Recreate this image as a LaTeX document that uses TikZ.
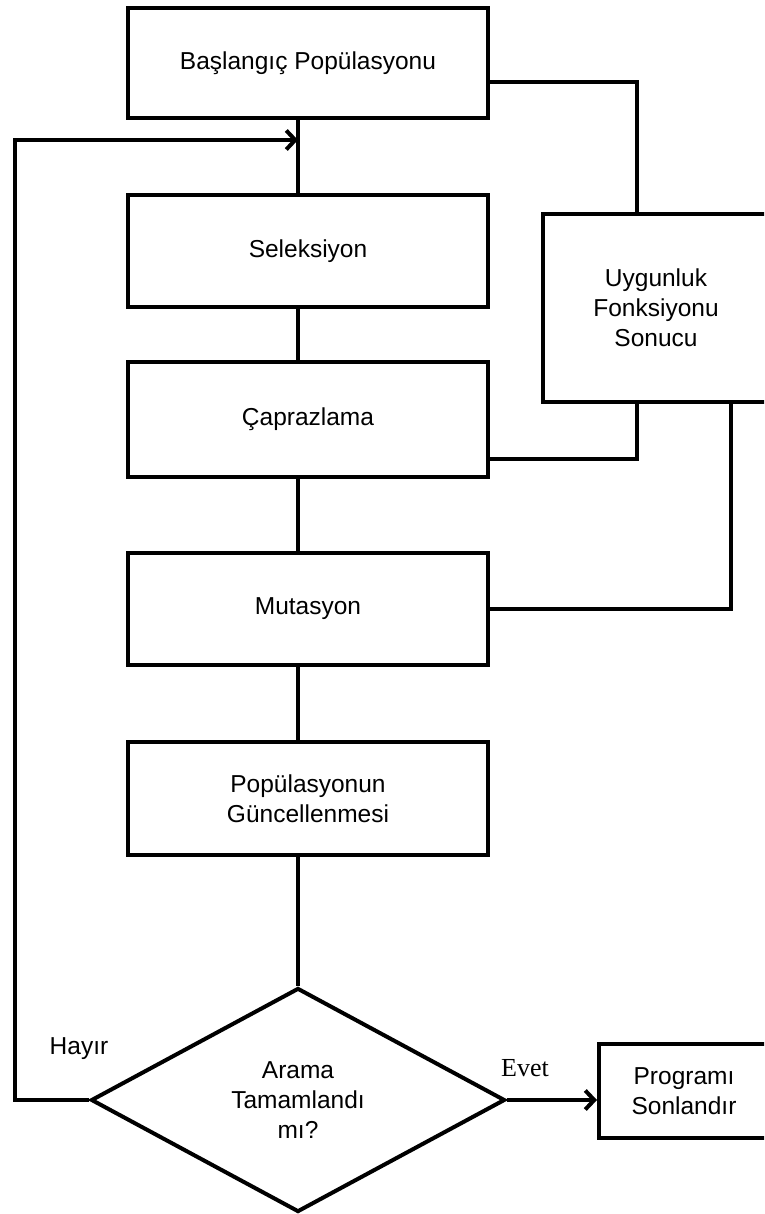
\documentclass[tikz,border=0pt]{standalone}
\usepackage{fontspec}
\setmainfont{Liberation Sans}
\newfontfamily\evetfont{Liberation Serif}
\usetikzlibrary{shapes.geometric,arrows.meta}
\begin{document}
\begin{tikzpicture}[x=1pt,y=-1pt,
  every node/.style={font=\fontsize{24.5}{30}\selectfont},
  box/.style={draw,line width=4pt,minimum width=360pt,align=center,inner sep=0pt},
  conn/.style={line width=4pt},
  arr/.style={line width=4pt,-{Straight Barb[length=9pt,width=19pt]}},
  lbl/.style={inner sep=0pt}]
\useasboundingbox (0,0) rectangle (764,1214);
\clip (0,0) rectangle (764,1214);
\node[box,minimum height=110pt] (init) at (308,63) {Başlangıç Popülasyonu};
\node[box,minimum height=112pt] (sel) at (308,251) {Seleksiyon};
\node[box,minimum height=115pt] (cap) at (308,419.5) {Çaprazlama};
\node[box,minimum height=112pt] (mut) at (308,609) {Mutasyon};
\node[box,minimum height=113pt] (upd) at (308,798.5) {Popülasyonun\\Güncellenmesi};
\node[box,minimum width=226pt,minimum height=188pt] (fit) at (656,308) {Uygunluk\\Fonksiyonu\\Sonucu};
\node[draw,line width=4pt,diamond,aspect=1.85,minimum width=414pt,minimum height=224pt,inner sep=0pt,align=center] (dec) at (298,1100) {Arama\\Tamamlandı\\mı?};
\node[box,minimum width=170pt,minimum height=94pt] (prog) at (684,1091) {Programı\\Sonlandır};
\node[lbl] (hayir) at (79,1049) {Hayır};
\node[lbl,font=\evetfont\fontsize{26}{30}\selectfont] (evet) at (525,1068) {Evet};
\coordinate (join) at (298,140);
\coordinate (lb) at (15,1100);
% main chain
\draw[conn] (init.south -| dec.north) -- (sel.north -| dec.north);
\draw[conn] (sel.south -| dec.north) -- (cap.north -| dec.north);
\draw[conn] (cap.south -| dec.north) -- (mut.north -| dec.north);
\draw[conn] (mut.south -| dec.north) -- (upd.north -| dec.north);
\draw[conn] (upd.south -| dec.north) -- (dec.north);
% fitness links
\draw[conn] ([yshift=-19pt]init.east) -| ([xshift=-19pt]fit.north);
\draw[conn] ([yshift=-39.5pt]cap.east) -| ([xshift=-19pt]fit.south);
\draw[conn] (mut.east) -| ([xshift=75pt]fit.south);
% loop back
\draw[arr] (dec.west) -- (lb) |- (join);
% yes
\draw[arr] (dec.east) -- (dec.east -| prog.west);
\end{tikzpicture}
\end{document}
